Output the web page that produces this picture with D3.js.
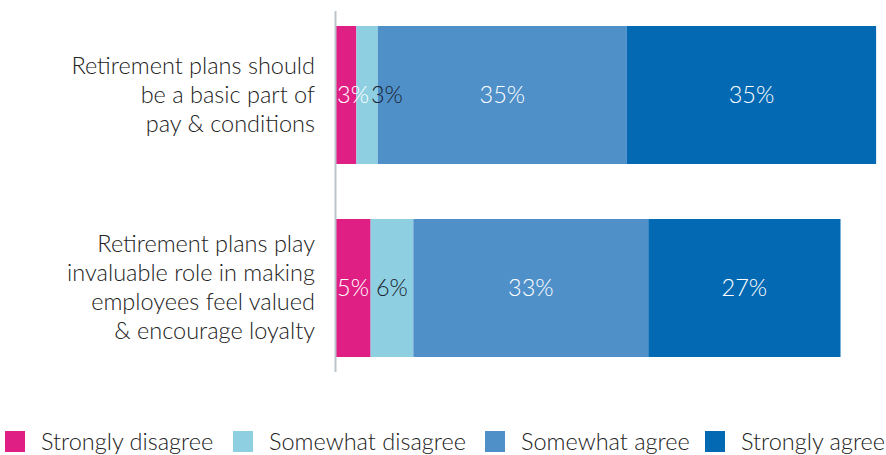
<!DOCTYPE html>
<html>
<head>
<meta charset="UTF-8" />
<title>Retirement plans attitudes</title>
<style>
  html, body { margin: 0; padding: 0; background: #fff; overflow: hidden; }
  svg text { font-family: Lato, "Open Sans", sans-serif; font-weight: 300; }
</style>
<script src="https://cdnjs.cloudflare.com/ajax/libs/d3/7.8.5/d3.min.js"></script>
</head>
<body>
<svg></svg>
<script>
// data
const categories = [
  ['Retirement plans should', 'be a basic part of', 'pay & conditions'],
  ['Retirement plans play', 'invaluable role in making', 'employees feel valued', '& encourage loyalty']
];
const seriesNames = ['Strongly disagree', 'Somewhat disagree', 'Somewhat agree', 'Strongly agree'];
const seriesColors = ['#e01f84', '#8ed0e1', '#4f90c9', '#0369b3'];
const labelColors = ['#fff', '#1b2430', '#fff', '#fff'];
const values = [
  [3, 3, 35, 35],
  [5, 6, 33, 27]
];

const width = 886, height = 455;
const fs = 23.5;
const svg = d3.select('svg').attr('width', width).attr('height', height);

const x = d3.scaleLinear().domain([0, 100]).range([335, 1047]);
const y = d3.scaleBand().domain(d3.range(categories.length)).range([26, 357])
  .paddingInner(0.285).paddingOuter(0);

// stacked data
const rows = values.map((v, i) => {
  let acc = 0;
  return v.map((val, j) => {
    const seg = { row: i, s: j, x0: acc, x1: acc + val, val };
    acc += val;
    return seg;
  });
});

const barG = svg.append('g');
rows.forEach(segs => {
  barG.selectAll(null)
    .data(segs)
    .enter().append('rect')
    .attr('x', d => x(d.x0))
    .attr('y', d => y(d.row))
    .attr('width', d => x(d.x1) - x(d.x0))
    .attr('height', y.bandwidth())
    .attr('fill', d => seriesColors[d.s]);
});

// axis line
svg.append('line')
  .attr('x1', x(0) + 0.5).attr('x2', x(0) + 0.5)
  .attr('y1', 11).attr('y2', 372)
  .attr('stroke', '#bcc5cc').attr('stroke-width', 2);

// value labels, pushed right when they would collide
rows.forEach(segs => {
  let prevEnd = x(0);
  segs.forEach(d => {
    const t = barG.append('text')
      .attr('y', y(d.row) + y.bandwidth() / 2)
      .attr('dy', '0.35em')
      .attr('text-anchor', 'middle')
      .attr('font-size', fs)
      .attr('fill', labelColors[d.s])
      .text(d.val + '%');
    const w = t.node().getComputedTextLength();
    const cx = Math.max((x(d.x0) + x(d.x1)) / 2, prevEnd + w / 2 + 2);
    t.attr('x', cx);
    prevEnd = cx + w / 2;
  });
});

// category labels
const lineH = 29;
categories.forEach((lines, i) => {
  const cy = y(i) + y.bandwidth() / 2;
  const t = svg.append('text')
    .attr('text-anchor', 'end')
    .attr('font-size', fs)
    .attr('fill', '#222');
  lines.forEach((ln, k) => {
    t.append('tspan')
      .attr('x', 315)
      .attr('y', cy + (k - (lines.length - 1) / 2) * lineH)
      .attr('dy', '0.33em')
      .text(ln);
  });
});

// legend
const legendX = [5, 233, 485, 705];
const legend = svg.append('g');
seriesNames.forEach((name, i) => {
  legend.append('rect')
    .attr('x', legendX[i]).attr('y', 431)
    .attr('width', 20).attr('height', 21)
    .attr('fill', seriesColors[i]);
  legend.append('text')
    .attr('x', legendX[i] + 36).attr('y', 450)
    .attr('font-size', fs)
    .attr('fill', '#222')
    .text(name);
});
</script>
</body>
</html>
